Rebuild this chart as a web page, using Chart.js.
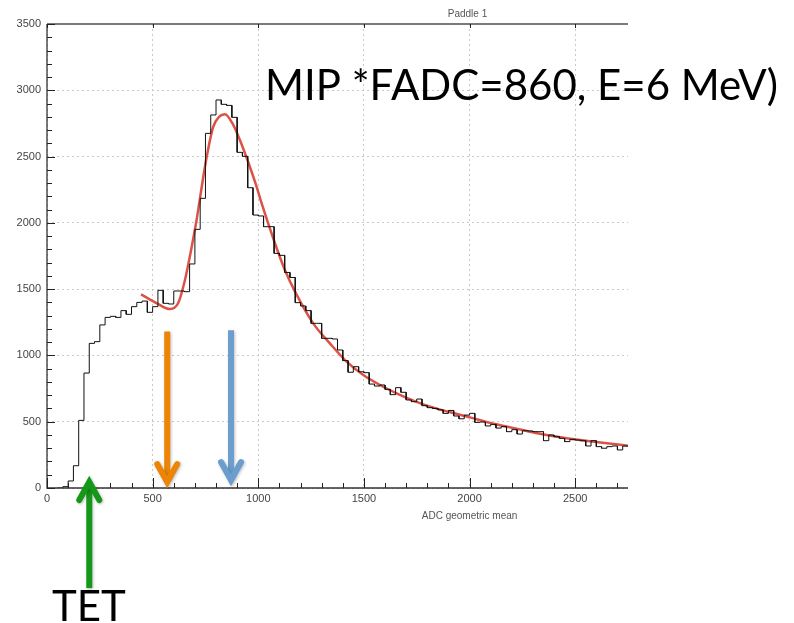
<!DOCTYPE html>
<html>
<head>
<meta charset="utf-8">
<script src="https://cdn.jsdelivr.net/npm/chart.js@4.4.1/dist/chart.umd.min.js"></script>
<style>
  html, body { margin: 0; padding: 0; background: #ffffff; }
  #wrap { width: 794px; height: 623px; }
</style>
</head>
<body>
<div id="wrap"><canvas id="c" width="794" height="623"></canvas></div>
<script>
// ---- data ----
const binLow = 50;        // left edge of first bin (ADC)
const binWidth = 25;      // bin width (ADC)
const counts = [0, 10, 53, 168, 510, 867, 1091, 1104, 1230, 1287,
  1295, 1287, 1338, 1310, 1368, 1400, 1410, 1325, 1368, 1491,
  1393, 1388, 1486, 1486, 1481, 1690, 1951, 2185, 2675, 2814,
  2927, 2894, 2886, 2796, 2532, 2502, 2265, 2059, 2052, 1971,
  1971, 1770, 1755, 1626, 1588, 1398, 1373, 1338, 1242, 1242,
  1129, 1129, 1124, 1041, 961, 873, 915, 877, 870, 784,
  769, 777, 744, 704, 757, 722, 664, 651, 671, 621,
  606, 600, 590, 563, 585, 543, 522, 550, 563, 495,
  498, 468, 480, 452, 463, 425, 440, 407, 432, 430,
  425, 425, 357, 400, 387, 375, 350, 367, 362, 357,
  317, 357, 312, 300, 312, 317, 287, 317];

const fitX = [445, 520, 582, 621, 653, 685, 708, 724, 740, 756, 787, 842, 882, 913, 953, 992, 1016, 1079, 1126, 1174, 1260, 1339, 1418, 1497, 1576, 1655, 1734, 1813, 1900, 2002, 2100, 2200, 2286, 2400, 2522, 2640, 2750];
const fitY = [1461, 1393, 1350, 1395, 1569, 1820, 2021, 2185, 2350, 2499, 2725, 2820, 2738, 2625, 2455, 2273, 2147, 1846, 1644, 1481, 1242, 1091, 953, 852, 777, 714, 659, 614, 575, 533, 490, 455, 425, 390, 362, 340, 318];

const xTicks = [0, 500, 1000, 1500, 2000, 2500];
const yTicks = [0, 500, 1000, 1500, 2000, 2500, 3000, 3500];

const titleText = "Paddle 1";
const xTitle = "ADC geometric mean";
const noteText = "MIP *FADC=860, E=6 MeV)";
const tetText = "TET";

// arrows: x value, start y value, end (tip) y value
const arrowOrange = { x: 569, from: 1180, to: 45 };
const arrowBlue   = { x: 871, from: 1190, to: 60 };
const arrowGreen  = { x: 200, from: -755, to: 45 };

// ---- build datasets ----
const histPts = [];
counts.forEach((v, i) => {
  const lo = binLow + i * binWidth;
  histPts.push({ x: lo, y: v });
  histPts.push({ x: lo + binWidth, y: v });
});
const fitPts = fitX.map((x, i) => ({ x: x, y: fitY[i] }));

const decor = {
  id: 'decor',
  afterDraw(chart) {
    const ctx = chart.ctx;
    const xs = chart.scales.x, ys = chart.scales.y;
    const a = chart.chartArea;
    ctx.save();
    // top frame line
    ctx.strokeStyle = '#7a7a7a';
    ctx.lineWidth = 2;
    ctx.beginPath(); ctx.moveTo(a.left, a.top); ctx.lineTo(a.right, a.top); ctx.stroke();
    // left & bottom axes
    ctx.strokeStyle = '#333333';
    ctx.lineWidth = 1.3;
    ctx.beginPath();
    ctx.moveTo(a.left, a.top); ctx.lineTo(a.left, a.bottom); ctx.lineTo(a.right, a.bottom);
    ctx.stroke();
    // x ticks (inside)
    ctx.lineWidth = 1;
    ctx.strokeStyle = '#222';
    for (let v = 0; v <= 2750; v += 100) {
      const px = Math.round(xs.getPixelForValue(v)) + 0.5;
      const major = v % 500 === 0;
      ctx.beginPath();
      ctx.moveTo(px, a.bottom);
      ctx.lineTo(px, a.bottom - (major ? 10 : 5));
      ctx.stroke();
      if (major) {
        ctx.beginPath();
        ctx.moveTo(px, a.top);
        ctx.lineTo(px, a.top + 4);
        ctx.stroke();
      }
    }
    // y ticks (inside)
    for (let v = 0; v <= 3500; v += 100) {
      const py = Math.round(ys.getPixelForValue(v)) + 0.5;
      const major = v % 500 === 0;
      ctx.beginPath();
      ctx.moveTo(a.left, py);
      ctx.lineTo(a.left + (major ? 8 : 5), py);
      ctx.stroke();
    }
    // texts
    ctx.fillStyle = '#555';
    ctx.font = "10px 'Liberation Sans', Arial, sans-serif";
    ctx.textAlign = 'center';
    ctx.textBaseline = 'middle';
    ctx.fillText(titleText, (a.left + a.right) / 2 + 130, 14);
    ctx.fillText(xTitle, xs.getPixelForValue(2000), a.bottom + 28);

    ctx.fillStyle = '#000';
    ctx.font = "42px Lato, 'Open Sans', sans-serif";
    ctx.textAlign = 'left';
    ctx.textBaseline = 'alphabetic';
    ctx.fillText(noteText, 265, 100);
    ctx.fillText(tetText, 52, 621);

    // arrows
    const drawArrow = (ar, color) => {
      const px = xs.getPixelForValue(ar.x);
      const y0 = ys.getPixelForValue(ar.from);
      const y1 = ys.getPixelForValue(ar.to);
      ctx.save();
      ctx.shadowColor = 'rgba(0,0,0,0.25)';
      ctx.shadowBlur = 3;
      ctx.shadowOffsetX = 1;
      ctx.shadowOffsetY = 1;
      ctx.strokeStyle = color;
      ctx.lineWidth = 6;
      ctx.lineCap = 'butt';
      const dir = y1 > y0 ? 1 : -1;
      ctx.beginPath();
      ctx.moveTo(px, y0);
      ctx.lineTo(px, y1 - dir * 2);
      ctx.stroke();
      ctx.lineCap = 'round';
      ctx.lineJoin = 'miter';
      ctx.beginPath();
      ctx.moveTo(px - 10, y1 - dir * 18);
      ctx.lineTo(px, y1);
      ctx.lineTo(px + 10, y1 - dir * 18);
      ctx.stroke();
      ctx.restore();
    };
    drawArrow(arrowOrange, '#ec8406');
    drawArrow(arrowBlue, '#6b9dce');
    drawArrow(arrowGreen, '#15981a');
    ctx.restore();
  }
};

new Chart(document.getElementById('c'), {
  type: 'line',
  data: {
    datasets: [
      {
        label: 'hist',
        data: histPts,
        borderColor: '#111111',
        borderWidth: 1,
        pointRadius: 0,
        fill: false,
        tension: 0
      },
      {
        label: 'fit',
        data: fitPts,
        borderColor: '#db5348',
        borderWidth: 2.5,
        pointRadius: 0,
        fill: false,
        cubicInterpolationMode: 'monotone'
      }
    ]
  },
  options: {
    responsive: false,
    animation: false,
    devicePixelRatio: 1,
    layout: { padding: { left: 0, right: 166, top: 24, bottom: 0 } },
    plugins: { legend: { display: false }, tooltip: { enabled: false }, title: { display: false } },
    scales: {
      x: {
        type: 'linear',
        min: 0, max: 2750,
        afterBuildTicks: (s) => { s.ticks = xTicks.map(v => ({ value: v })); },
        ticks: { font: { family: "'Liberation Sans', Arial, sans-serif", size: 11 }, color: '#444', padding: 4, maxRotation: 0,
                 callback: (v) => String(v) },
        grid: { color: '#c9c9c9', lineWidth: 1, drawTicks: false },
        border: { display: false, dash: [2, 3] },
        afterFit: (s) => { s.height = 135; }
      },
      y: {
        type: 'linear',
        min: 0, max: 3500,
        afterBuildTicks: (s) => { s.ticks = yTicks.map(v => ({ value: v })); },
        ticks: { font: { family: "'Liberation Sans', Arial, sans-serif", size: 11 }, color: '#444', padding: 6,
                 callback: (v) => String(v) },
        grid: { color: '#c9c9c9', lineWidth: 1, drawTicks: false },
        border: { display: false, dash: [2, 3] },
        afterFit: (s) => { s.width = 47; }
      }
    }
  },
  plugins: [decor]
});
</script>
</body>
</html>
